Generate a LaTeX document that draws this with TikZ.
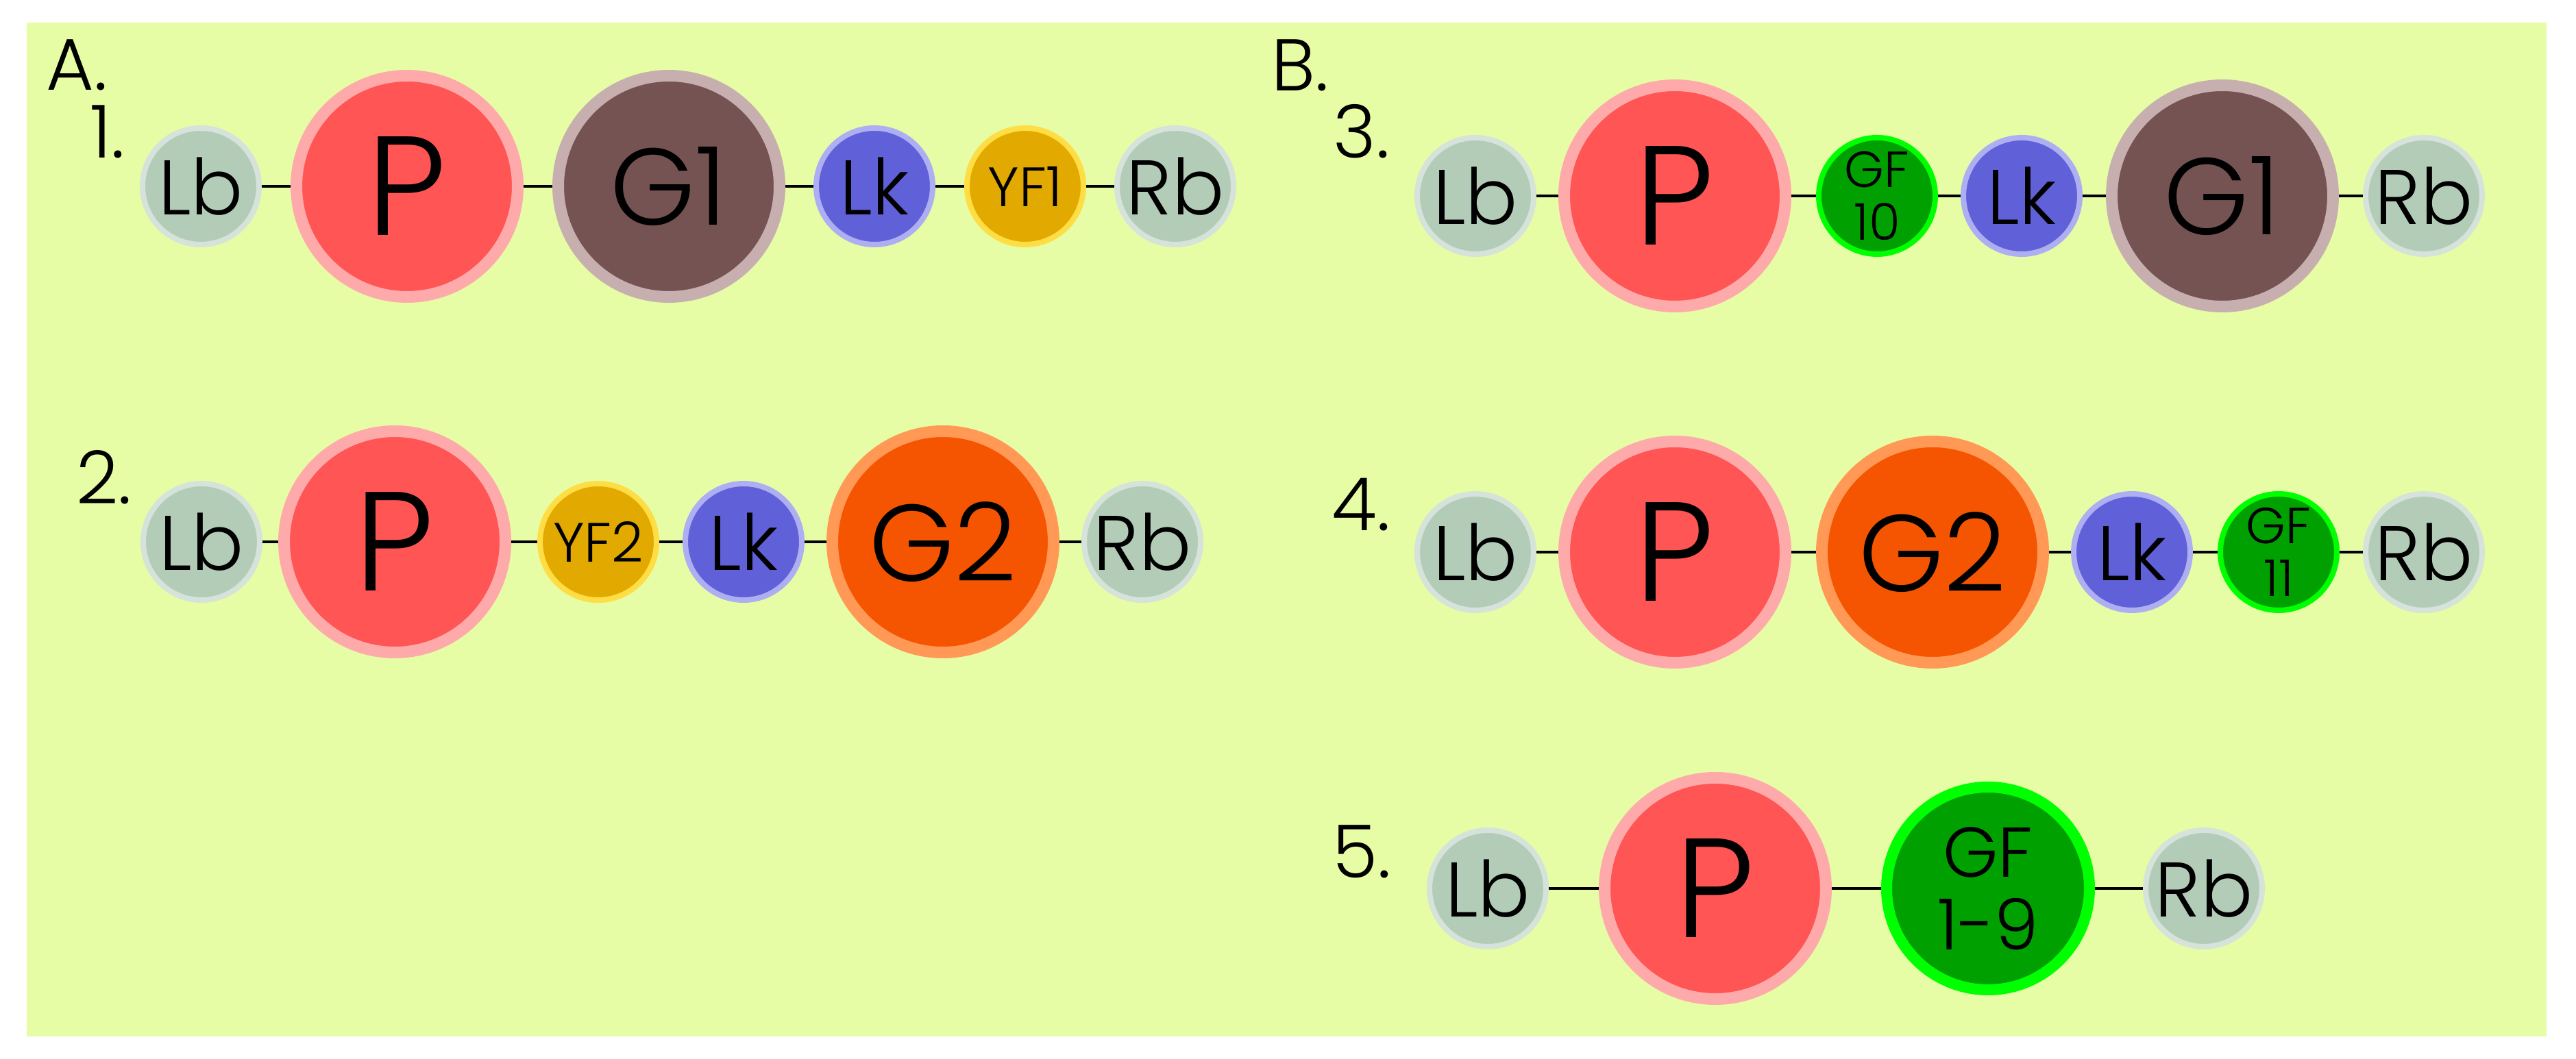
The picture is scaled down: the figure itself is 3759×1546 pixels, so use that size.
\documentclass[tikz,border=0pt]{standalone}
\usepackage{fontspec}
\setmainfont{Poppins}[UprightFont={* Light}]
\definecolor{bgyellow}{HTML}{E6FCA5}
\definecolor{endfill}{HTML}{B3CCB8}
\definecolor{enddraw}{HTML}{D5E3DA}
\definecolor{pfill}{HTML}{FF5555}
\definecolor{pdraw}{HTML}{FFAAAA}
\definecolor{gonefill}{HTML}{765353}
\definecolor{gonedraw}{HTML}{C7AFAF}
\definecolor{gtwofill}{HTML}{F55500}
\definecolor{gtwodraw}{HTML}{FF9955}
\definecolor{lkfill}{HTML}{6060D8}
\definecolor{lkdraw}{HTML}{AEAEF2}
\definecolor{yffill}{HTML}{E2AA00}
\definecolor{yfdraw}{HTML}{FFDD44}
\definecolor{gffill}{HTML}{00A000}
\definecolor{gfdraw}{HTML}{00FF00}

\begin{document}
\begin{tikzpicture}[x=0.1pt, y=-0.1pt,
		small/.style={draw, circle, inner sep=0pt, line width=0.8pt, minimum size=17pt, font=\fontsize{11.3}{13}\selectfont},
		big/.style={draw, circle, inner sep=0pt, line width=1.7pt, minimum size=32.3pt},
		ends/.style={small, fill=endfill, draw=enddraw},
		lk/.style={small, fill=lkfill, draw=lkdraw},
		yf/.style={small, fill=yffill, draw=yfdraw, font=\fontsize{8.1}{9}\selectfont},
		gf/.style={small, fill=gffill, draw=gfdraw, align=center, font=\fontsize{7.4}{7.7}\selectfont},
		prom/.style={big, fill=pfill, draw=pdraw, font=\fontsize{20.6}{24}\selectfont},
		gone/.style={big, fill=gonefill, draw=gonedraw, font=\fontsize{15.9}{18}\selectfont},
		gtwo/.style={big, fill=gtwofill, draw=gtwodraw, font=\fontsize{15.9}{18}\selectfont},
		lab/.style={inner sep=0pt, font=\fontsize{10.7}{12}\selectfont},
		link/.style={line width=0.4pt, black}]
	\useasboundingbox (0,0) rectangle (3759,1546);
	\fill[bgyellow] (39,33) rectangle (3716,1513);

	\node[lab] (A)at(112, 95) {A.};
	\node[lab] (B)at(1897, 95) {B.};
	\node[lab] (n1)at(157, 192) {1.};
	\node[lab] (n2)at(152, 697) {2.};
	\node[lab] (n3)at(1987, 192) {3.};
	\node[lab] (n4)at(1986, 737) {4.};
	\node[lab] (n5)at(1987, 1243) {5.};

	% construct 1
	\node[ends] (aLb)at(293, 272) {Lb};
	\node[prom] (aP)at(594, 272) {P};
	\node[gone] (aG)at(976, 272) {G1};
	\node[lk] (aLk)at(1276, 272) {Lk};
	\node[yf] (aYF)at(1496, 272) {YF1};
	\node[ends] (aRb)at(1715, 272) {Rb};
	\draw[link] (aLb) -- (aP) -- (aG) -- (aLk) -- (aYF) -- (aRb);

	% construct 2
	\node[ends] (bLb)at(294, 791) {Lb};
	\node[prom] (bP)at(576, 791) {P};
	\node[yf] (bYF)at(873, 791) {YF2};
	\node[lk] (bLk)at(1085, 791) {Lk};
	\node[gtwo] (bG)at(1376, 791) {G2};
	\node[ends] (bRb)at(1667, 791) {Rb};
	\draw[link] (bLb) -- (bP) -- (bYF) -- (bLk) -- (bG) -- (bRb);

	% construct 3
	\node[ends] (cLb)at(2153, 286) {Lb};
	\node[prom] (cP)at(2444, 286) {P};
	\node[gf] (cGF)at(2739, 286) {GF\\10};
	\node[lk] (cLk)at(2950, 286) {Lk};
	\node[gone] (cG)at(3243, 286) {G1};
	\node[ends] (cRb)at(3537, 286) {Rb};
	\draw[link] (cLb) -- (cP) -- (cGF) -- (cLk) -- (cG) -- (cRb);

	% construct 4
	\node[ends] (dLb)at(2153, 806) {Lb};
	\node[prom] (dP)at(2444, 806) {P};
	\node[gtwo] (dG)at(2820, 806) {G2};
	\node[lk] (dLk)at(3111, 806) {Lk};
	\node[gf] (dGF)at(3325, 806) {GF\\11};
	\node[ends] (dRb)at(3537, 806) {Rb};
	\draw[link] (dLb) -- (dP) -- (dG) -- (dLk) -- (dGF) -- (dRb);

	% construct 5
	\node[ends] (eLb)at(2171, 1297) {Lb};
	\node[prom] (eP)at(2503, 1297) {P};
	\node[big, fill=gffill, draw=gfdraw, minimum size=29.6pt, line width=1.6pt, align=center, font=\fontsize{10.3}{10.6}\selectfont] (eGF)at(2901, 1297) {GF\\1-9};
	\node[ends] (eRb)at(3216, 1297) {Rb};
	\draw[link] (eLb) -- (eP) -- (eGF) -- (eRb);
\end{tikzpicture}
\end{document}
